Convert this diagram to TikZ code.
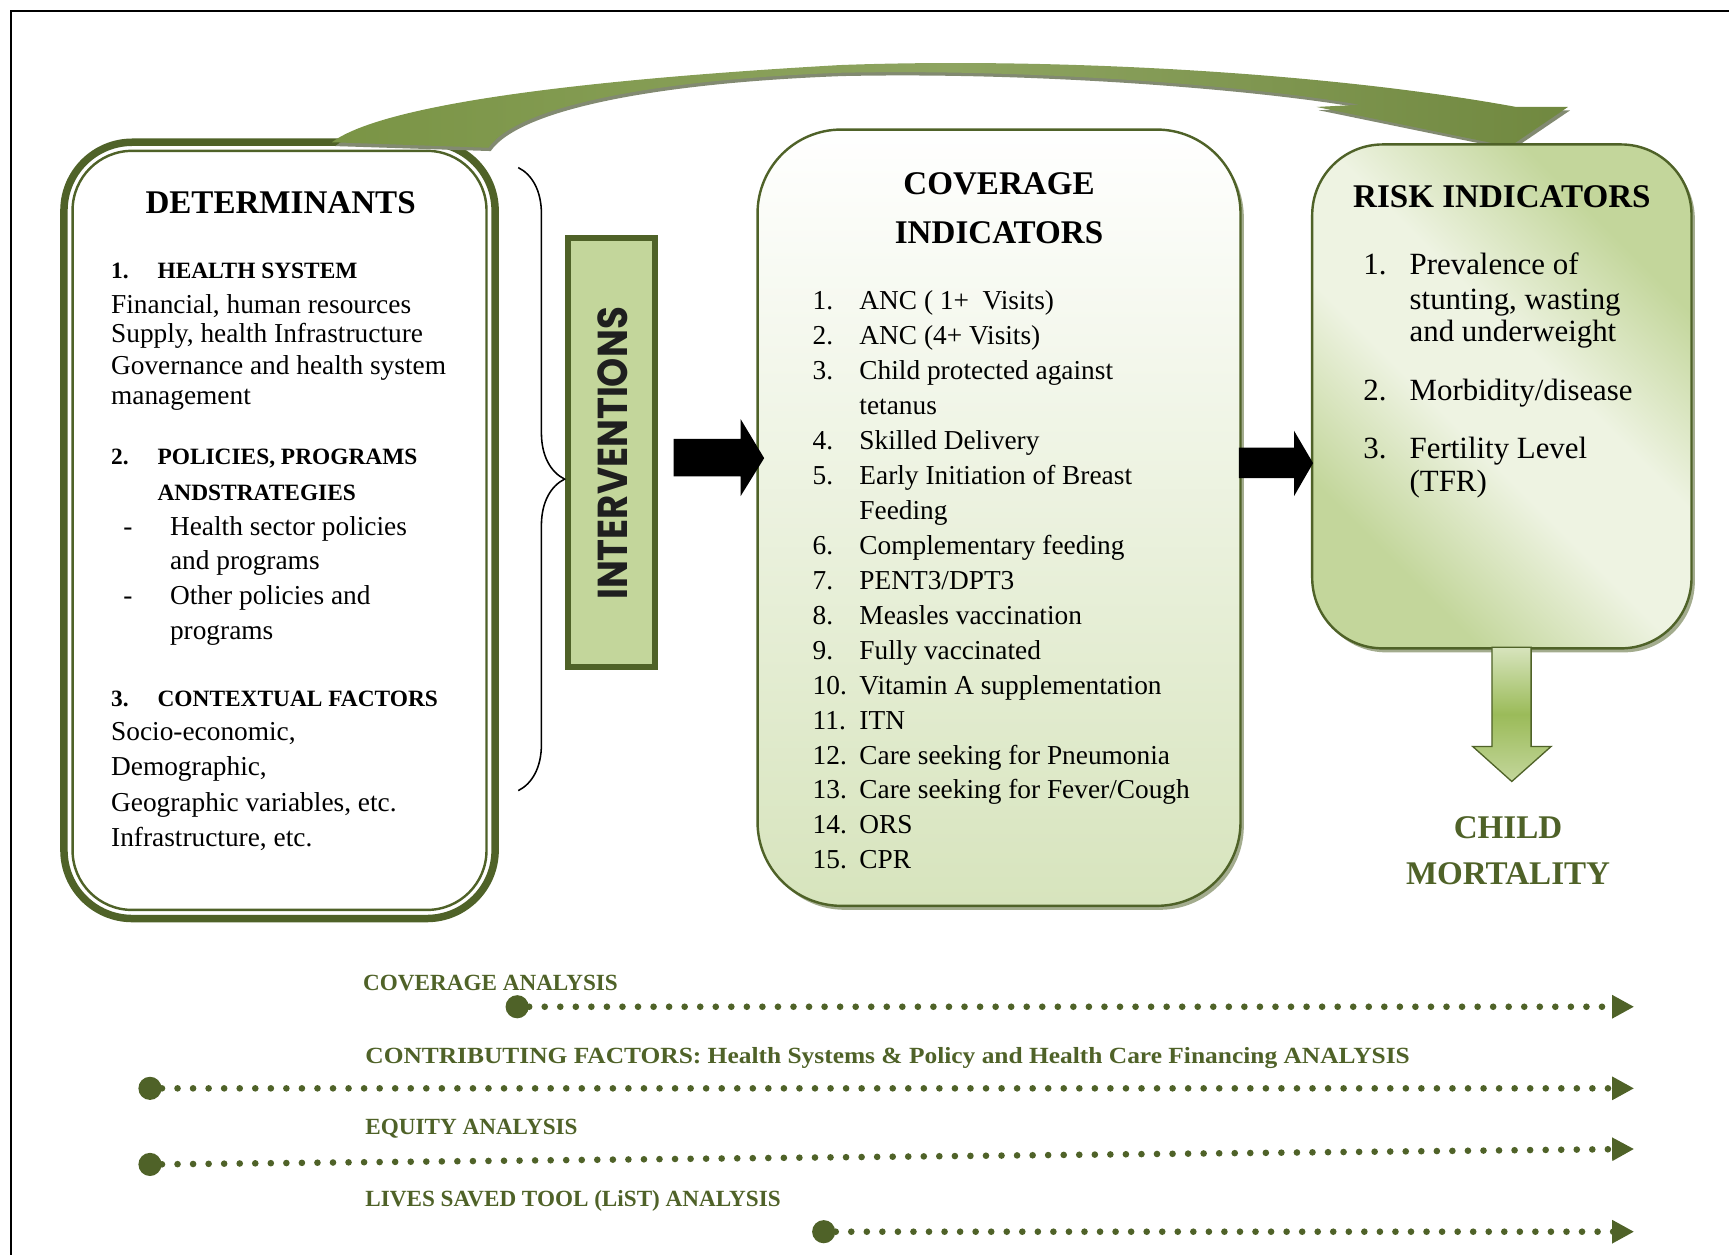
\documentclass[tikz,border=0pt]{standalone}
\usepackage{fontspec}
\setmainfont{Liberation Serif}
\newfontfamily\gothic{Poppins}
\usetikzlibrary{calc,decorations.pathreplacing,shadows,arrows.meta}
\definecolor{dolive}{HTML}{4F6228}
\definecolor{arrowgreen}{HTML}{7A9445}
\definecolor{lgreen}{HTML}{C3D69B}
\definecolor{pgreen}{HTML}{D7E4BD}
\definecolor{vpale}{HTML}{EEF3E2}
\definecolor{mgreen}{HTML}{9BBB59}
\definecolor{shadowc}{HTML}{A3AC8E}
\pgfdeclarehorizontalshading{riskshade}{100bp}{color(0bp)=(lgreen); color(28bp)=(lgreen);
  color(44bp)=(vpale); color(56bp)=(vpale); color(72bp)=(lgreen); color(100bp)=(lgreen)}
\tikzset{
  body/.style={font=\fontsize{12.4}{15}\selectfont, inner sep=0pt, anchor=base west},
  rbody/.style={font=\fontsize{14}{17}\selectfont, inner sep=0pt, anchor=base west},
  hd/.style={font=\fontsize{10.6}{13}\selectfont\bfseries, inner sep=0pt, anchor=base west},
  ttl/.style={font=\fontsize{15}{18}\selectfont\bfseries, inner sep=0pt, anchor=base},
  cmtxt/.style={font=\fontsize{15}{18}\selectfont\bfseries, text=dolive, inner sep=0pt, anchor=base},
  lab/.style={font=\fontsize{10.5}{13}\selectfont\bfseries, text=dolive, inner sep=0pt, anchor=base west},
  startdot/.style={circle, fill=dolive, inner sep=0pt, minimum size=10.5pt},
  dotline/.style={dolive, line width=3pt, line cap=round, dash pattern=on 0pt off 7.05pt,
    -{Triangle[length=10pt,width=10pt]}},
  detbox/.style={draw=dolive, line width=3.4pt, rounded corners=31pt, fill=white,
    minimum width=195.5pt, minimum height=352pt, inner sep=0pt, outer sep=0pt},
  intbox/.style={draw=dolive, line width=3pt, fill=lgreen, minimum width=39.5pt,
    minimum height=194.5pt, inner sep=0pt,
    drop shadow={shadow xshift=1.5pt, shadow yshift=-1.5pt, fill=shadowc, opacity=1}},
  covbox/.style={draw=dolive, line width=1.1pt, rounded corners=38pt, top color=white,
    bottom color=pgreen, minimum width=219pt, minimum height=352pt, inner sep=0pt,
    drop shadow={shadow xshift=1.5pt, shadow yshift=-1.8pt, fill=shadowc, opacity=1}},
  riskbox/.style={draw=dolive, line width=1.1pt, rounded corners=32pt,
    shading=riskshade, shading angle=45,
    minimum width=172pt, minimum height=228.5pt, inner sep=0pt,
    drop shadow={shadow xshift=1.5pt, shadow yshift=-1.8pt, fill=shadowc, opacity=1}},
  blockarrow/.style={fill=black},
}
\begin{document}
\begin{tikzpicture}[x=0.5pt,y=-0.5pt]
\useasboundingbox (0,0) rectangle (1568,1138);
% frame
\draw[line width=1pt] (10,1145) -- (10,10) -- (1575,10);

% ---------- DETERMINANTS ----------
\node[detbox] (det) at (253.5,481) {};
\draw[dolive, line width=1.1pt, rounded corners=27pt]
  ($(det.south west)+(7.8,-7.8)$) rectangle ($(det.north east)+(-7.8,7.8)$);
\node[ttl] (dtitle) at (254.5,193.5) {DETERMINANTS};
\node[hd] (dh1n) at (100.4,252.4) {1.};
\node[hd] (dh1) at (142.5,252.4) {HEALTH SYSTEM};
\node[body] (d1a) at (100.4,284.2) {Financial, human resources};
\node[body] (d1b) at (100.4,310.8) {Supply, health Infrastructure};
\node[body] (d1c) at (100.4,339.2) {Governance and health system};
\node[body] (d1d) at (100.4,366.4) {management};
\node[hd] (dh2n) at (100.4,421.7) {2.};
\node[hd] (dh2) at (142.5,421.7) {POLICIES, PROGRAMS};
\node[hd] (dh2b) at (142.5,453.5) {ANDSTRATEGIES};
\node[body] (d2da) at (111.4,485.2) {-};
\node[body] (d2a) at (153.8,485.2) {Health sector policies};
\node[body] (d2b) at (153.8,516.5) {and programs};
\node[body] (d2db) at (111.4,548.5) {-};
\node[body] (d2c) at (153.8,548.5) {Other policies and};
\node[body] (d2d) at (153.8,580.2) {programs};
\node[hd] (dh3n) at (100.4,640.5) {3.};
\node[hd] (dh3) at (142.5,640.5) {CONTEXTUAL FACTORS};
\node[body] (d3a) at (100.4,671.5) {Socio-economic,};
\node[body] (d3b) at (100.4,703.3) {Demographic,};
\node[body] (d3c) at (100.4,735.5) {Geographic variables, etc.};
\node[body] (d3d) at (100.4,767.5) {Infrastructure, etc.};

% ---------- top curved arrow ----------
\fill[shadowc!80!black] ($(det.north)+(50.5,3.5)$)
  .. controls (342,103) and (482,78) .. (764,62)
  .. controls (952,55) and (1202,68) .. (1377,100) -- (1424,100) -- (1371,136) -- (1196,100)
  -- (1235,98) .. controls (1152,83) and (952,65) .. (764,69)
  .. controls (602,75) and (472,98) .. (445,137) -- cycle;
\shade[left color=arrowgreen, right color=arrowgreen!92!black, middle color=arrowgreen!85!white]
  ($(det.north)+(47.5,0)$)
  .. controls (340,100) and (480,75) .. (762,59)
  .. controls (950,52) and (1200,65) .. (1375,97) -- (1422,97) -- (1369,133) -- (1194,97)
  -- (1233,95) .. controls (1150,80) and (950,62) .. (762,66)
  .. controls (600,72) and (470,95) .. (443,134) -- cycle;
\coordinate (topA) at (1369,133);

% ---------- brace + INTERVENTIONS ----------
\node[intbox] (int) at (554.5,410.5) {};
\coordinate (brT) at (470,152);
\coordinate (brB) at (470,717);
\draw[line width=0.7pt, decorate, decoration={brace, amplitude=21pt}] (brT) -- (brB);
\node[rotate=90, inner sep=0pt, font=\gothic\bfseries, text=black!88] (intlab) at (556,411.3)
  {\resizebox{132.7pt}{13.5pt}{INTERVENTIONS}};

% ---------- COVERAGE ----------
\node[covbox] (cov) at (906,469.5) {};
\node[ttl] (ctitle1) at (906,176) {COVERAGE};
\node[ttl] (ctitle2) at (906,220.7) {INDICATORS};
\foreach \k/\n/\t in {0/1./ANC ( 1+ \ Visits), 1/2./ANC (4+ Visits), 2/3./Child protected against,
  3//tetanus, 4/4./Skilled Delivery, 5/5./Early Initiation of Breast, 6//Feeding,
  7/6./Complementary feeding, 8/7./PENT3\slash DPT3, 9/8./Measles vaccination,
  10/9./Fully vaccinated, 11/10./Vitamin A supplementation, 12/11./ITN,
  13/12./Care seeking for Pneumonia, 14/13./Care seeking for Fever\slash Cough,
  15/14./ORS, 16/15./CPR} {
  \node[body] (cn\k) at (736.6,{280.5+31.72*\k}) {\n};
  \node[body] (ct\k) at (779,{280.5+31.72*\k}) {\t};
}

% ---------- RISK ----------
\node[riskbox] (risk) at (1362,359.5) {};
\node[ttl] (rtitle) at (1362,188) {RISK INDICATORS};
\node[rbody] (rn1) at (1236,249.3) {1.};
\node[rbody] (rt1a) at (1278,249.3) {Prevalence of};
\node[rbody] (rt1b) at (1278,280.5) {stunting, wasting};
\node[rbody] (rt1c) at (1278,309.7) {and underweight};
\node[rbody] (rn2) at (1236,363.6) {2.};
\node[rbody] (rt2) at (1278,363.6) {Morbidity/disease};
\node[rbody] (rn3) at (1236,415.8) {3.};
\node[rbody] (rt3a) at (1278,415.8) {Fertility Level};
\node[rbody] (rt3b) at (1278,446) {(TFR)};

% ---------- black block arrows ----------
\coordinate (b1s) at (611,415);
\coordinate (b1e) at (693,415.5);
\fill[blockarrow] ($(b1s)+(0,-17)$) -- (671.6,398) -- (671.6,380) -- (b1e) -- (671.6,450)
  -- (671.6,432) -- ($(b1s)+(0,17)$) -- cycle;
\coordinate (b2s) at (1123.6,420);
\coordinate (b2e) at (1190.8,420);
\fill[blockarrow] (1123.6,406) -- (1173.5,406) -- (1173.5,390.6) -- (b2e) -- (1173.5,450)
  -- (1173.5,433.6) -- (1123.6,433.6) -- cycle;

% ---------- green down arrow ----------
\coordinate (gtop) at (1371,587);
\coordinate (gtip) at (1371,708.7);
\draw[dolive, line width=0.6pt, top color=pgreen, bottom color=lgreen, middle color=mgreen]
  (1353,587) -- (1388.5,587) -- (1388.5,677) -- (1406.6,677) -- (gtip) -- (1335.6,677)
  -- (1353,677) -- cycle;
\node[cmtxt] (child) at (1367.6,760) {CHILD};
\node[cmtxt] (mort) at (1367.6,801.7) {MORTALITY};

% ---------- analysis lines ----------
\node[lab] (l1) at (329,898.5) {COVERAGE ANALYSIS};
\node[startdot] (s1) at (469,913) {};
\coordinate (e1) at (1482,913);
\draw[dotline] (s1) -- (e1);

\node[lab] (l2) at (331,964.5) {\scalebox{1.098}[1]{CONTRIBUTING FACTORS: Health Systems \& Policy and Health Care Financing ANALYSIS}};
\node[startdot] (s2) at (136,987) {};
\coordinate (e2) at (1482,987);
\draw[dotline] (s2) -- (e2);

\node[lab] (l3) at (331,1028.5) {EQUITY ANALYSIS};
\node[startdot] (s3) at (136,1056) {};
\coordinate (e3) at (1482,1042);
\draw[dotline] (s3) -- (e3);

\node[lab] (l4) at (331,1094.5) {LIVES SAVED TOOL (LiST) ANALYSIS};
\node[startdot] (s4) at (747,1117) {};
\coordinate (e4) at (1482,1117);
\draw[dotline] (s4) -- (e4);
\end{tikzpicture}
\end{document}
